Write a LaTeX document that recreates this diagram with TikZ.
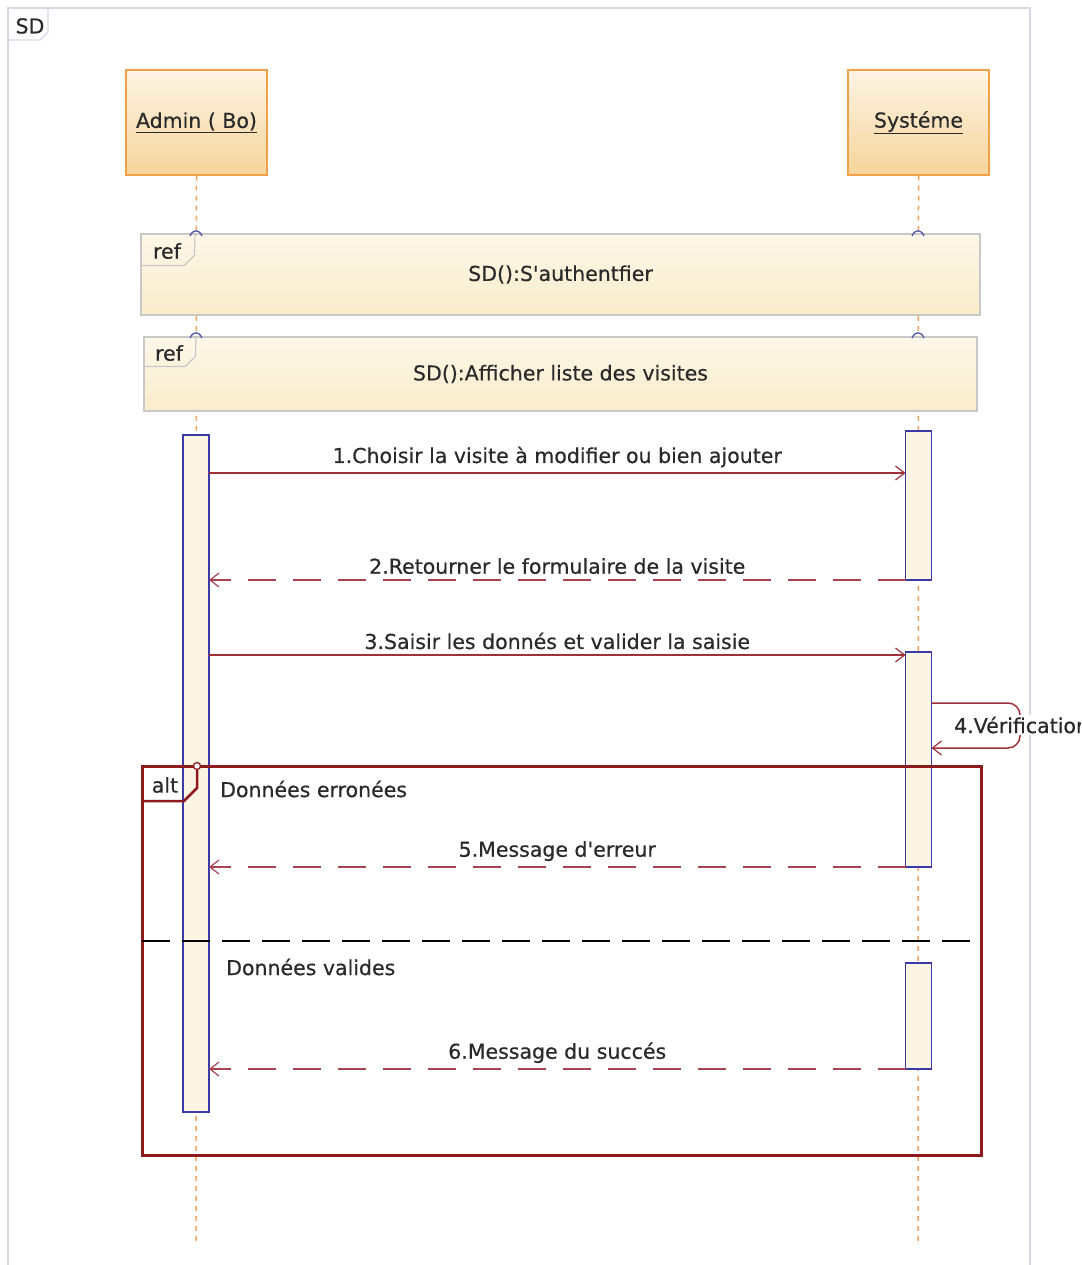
\documentclass[tikz,border=0pt]{standalone}
\usepackage{fontspec}
\setmainfont{DejaVu Sans}
\newfontfamily\diagfont{DejaVu Sans}[FakeBold=0.5]
\usetikzlibrary{arrows.meta}

\definecolor{frameline}{HTML}{D6D8E6}
\definecolor{actorline}{HTML}{F0A048}
\definecolor{actortop}{HTML}{FDF4E4}
\definecolor{actorbot}{HTML}{F5D49A}
\definecolor{lifeline}{HTML}{F0A460}
\definecolor{actline}{HTML}{3A3AAA}
\definecolor{actfill}{HTML}{FDF5E4}
\definecolor{msgline}{HTML}{A0303A}
\definecolor{retline}{HTML}{A84450}
\definecolor{reftop}{HTML}{FDF7E8}
\definecolor{refbot}{HTML}{F9ECCB}
\definecolor{refline}{HTML}{C8C8C8}
\definecolor{altline}{HTML}{8E1A1E}
\definecolor{txt}{HTML}{2A2A2A}
\definecolor{gatearc}{HTML}{5058A8}

\tikzset{
  every node/.style={text=txt, font=\diagfont\fontsize{20.5}{24}\selectfont},
  actor/.style={draw=actorline, line width=1.5pt, top color=actortop, bottom color=actorbot,
                minimum width=141pt, minimum height=105pt, inner sep=0pt},
  lifelinestyle/.style={draw=lifeline, line width=1.5pt, dash pattern=on 5pt off 5pt},
  activation/.style={draw=actline, line width=1.3pt, fill=actfill, minimum width=26pt, inner sep=0pt, outer sep=0pt},
  refbox/.style={draw=refline, line width=1.2pt, top color=reftop, bottom color=refbot, inner sep=0pt},
  tabline/.style={draw=refline, line width=1.2pt},
  gate/.style={draw=gatearc, line width=1.3pt},
  call/.style={draw=msgline, line width=1.5pt, -{Straight Barb[length=9pt,width=14pt,line width=1.2pt]}},
  reply/.style={draw=retline, line width=2pt, dash pattern=on 28pt off 17pt,
                -{Straight Barb[length=9pt,width=14pt,line width=1.2pt]}},
  msglabel/.style={inner sep=1pt},
  guard/.style={anchor=west, inner sep=0pt},
  frag/.style={draw=altline, line width=3pt},
}

\begin{document}
\begin{tikzpicture}[x=1pt, y=-1pt]
\useasboundingbox (0,0) rectangle (1081,1265);
\fill[white] (0,0) rectangle (1081,1265);
\clip (0,0) rectangle (1081,1265);

% diagram frame with its name tab
\draw[frameline, line width=1.5pt] (8,1275) -- (8,8) -- (1030,8) -- (1030,1275);
\draw[frameline, line width=1.2pt] (8,40) -- (40,40) -- (48,32) -- (48,8);
\node (sdname) at (30,26) {SD};

% participants
\node[actor] (admin) at (196.5,122.5) {\underline{Admin ( Bo)}};
\node[actor] (sys) at (918.5,122.5) {\underline{Systéme}};

\coordinate (adminEnd) at (196,1245);
\coordinate (sysEnd) at (918,1245);
\draw[lifelinestyle] (admin.south) -- (adminEnd);
\draw[lifelinestyle] (sys.south) -- (sysEnd);

% interaction uses
\node[refbox, minimum width=839pt, minimum height=81pt] (ref1) at (560.5,274.5) {SD():S'authentfier};
\draw[tabline] (ref1.north west) ++(0,32) -- ++(44,0) -- ++(10,-10) -- (ref1.north west -| 195,0);
\node (ref1tag) at (167,251) {ref};

\node[refbox, minimum width=833pt, minimum height=74pt] (ref2) at (560.5,374) {SD():Afficher liste des visites};
\draw[tabline] (ref2.north west) ++(0,30) -- ++(42,0) -- ++(10,-10) -- (ref2.north west -| 196,0);
\node (ref2tag) at (169,353) {ref};

% gates where the lifelines enter the interaction uses
\foreach \gx in {196,918}{
  \foreach \gy in {236,338}{
    \draw[gate] (\gx-6,\gy) .. controls (\gx-3,\gy-7) and (\gx+3,\gy-7) .. (\gx+6,\gy);
  }
}

% activations
\node[activation, minimum height=677pt] (aAct) at (196,773.5) {};
\node[activation, minimum height=149pt] (sAct1) at (918.5,505.5) {};
\node[activation, minimum height=215pt] (sAct2) at (918.5,759.5) {};
\node[activation, minimum height=106pt] (sAct3) at (918.5,1016) {};

% message ends
\coordinate (m1a) at (aAct.east |- 0,473);
\coordinate (m1b) at (sAct1.west |- 0,473);
\coordinate (m2a) at (sAct1.west |- 0,580);
\coordinate (m2b) at (aAct.east |- 0,580);
\coordinate (m3a) at (aAct.east |- 0,655);
\coordinate (m3b) at (sAct2.west |- 0,655);
\coordinate (m4a) at (sAct2.east |- 0,703);
\coordinate (m4b) at (sAct2.east |- 0,748);
\coordinate (m5a) at (sAct2.west |- 0,867);
\coordinate (m5b) at (aAct.east |- 0,867);
\coordinate (m6a) at (sAct3.west |- 0,1069);
\coordinate (m6b) at (aAct.east |- 0,1069);

% messages
\draw[call] (m1a) -- node[msglabel, above=4pt] (l1) {1.Choisir la visite à modifier ou bien ajouter} (m1b);
\draw[reply] (m2a) -- node[msglabel, above=4pt] (l2) {2.Retourner le formulaire de la visite} (m2b);
\draw[call] (m3a) -- node[msglabel, above=4pt] (l3) {3.Saisir les donnés et valider la saisie} (m3b);
\draw[call, rounded corners=12pt] (m4a) -- (1020,703) -- (1020,748) -- (m4b);
\node[fill=white, anchor=west, inner sep=2pt] (l4) at (952,725) {4.Vérification};

% combined fragment
\draw[frag] (142,766) rectangle (981,1155);
\node[draw=altline, line width=1.3pt, fill=white, circle, inner sep=0pt, minimum size=7pt] (altgate) at (197,766) {};
\draw[frag, line width=2.5pt] (142,801) -- (184,801) -- (197,788) -- (197,770);
\node (alttag) at (165,785) {alt};
\node[guard] (g1) at (220,789) {Données erronées};
\draw[black, line width=2pt, dash pattern=on 28pt off 12pt] (142,941) -- (970,941);
\node[guard] (g2) at (226,967) {Données valides};

\draw[reply] (m5a) -- node[msglabel, above=4pt] (l5) {5.Message d'erreur} (m5b);
\draw[reply] (m6a) -- node[msglabel, above=4pt] (l6) {6.Message du succés} (m6b);
\end{tikzpicture}
\end{document}
